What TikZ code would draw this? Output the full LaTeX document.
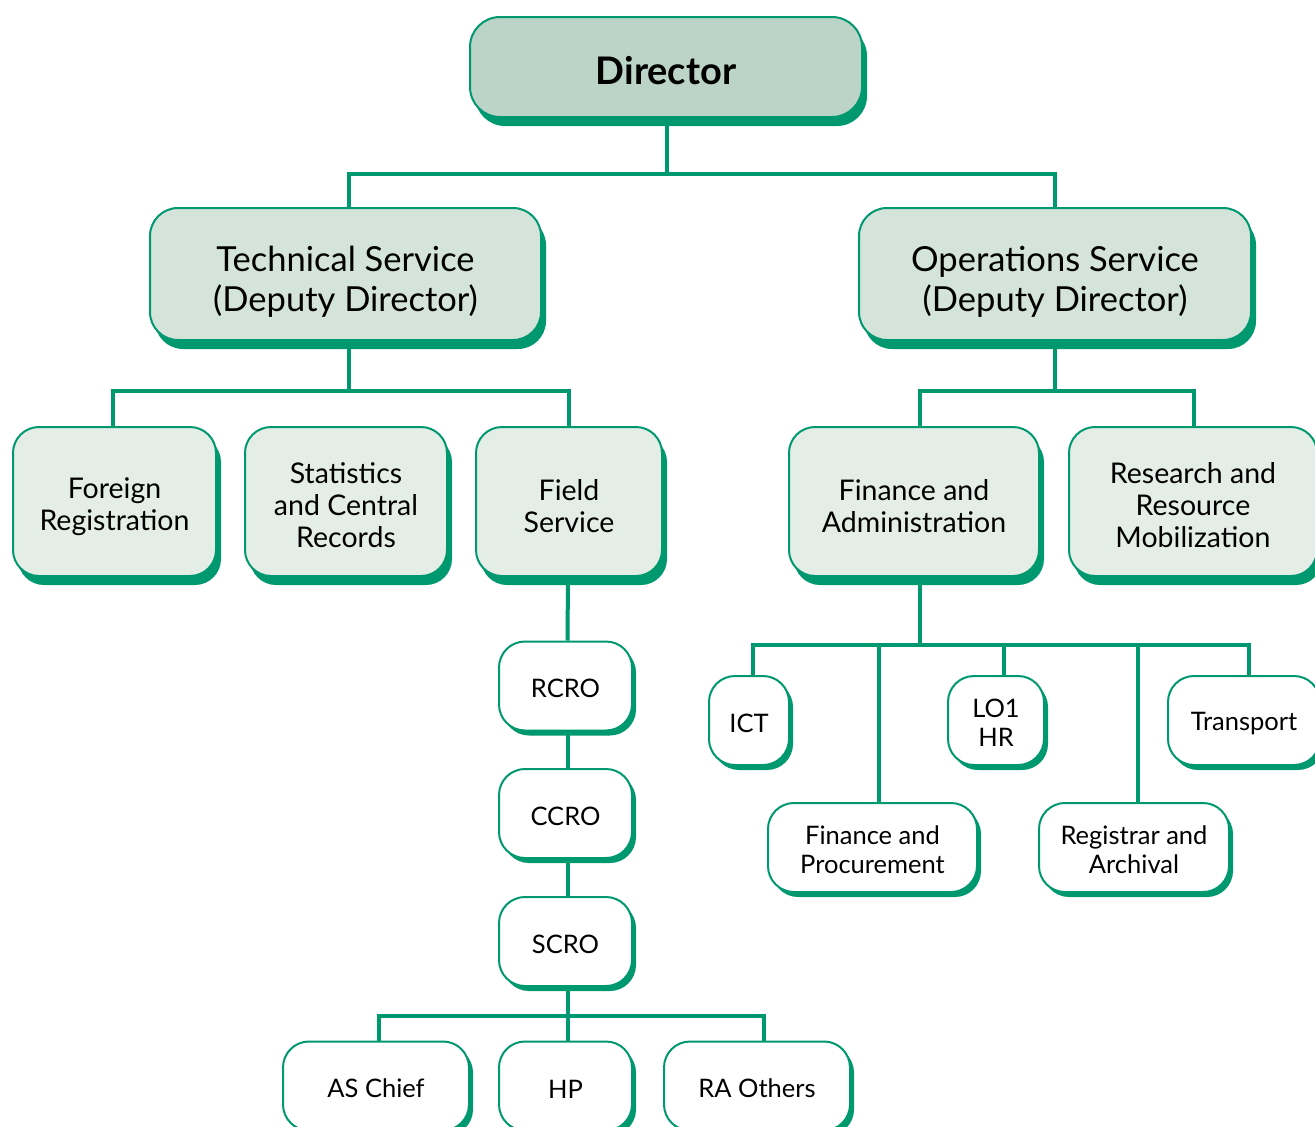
\documentclass[tikz,border=0pt]{standalone}
\usepackage{fontspec}
\setmainfont{Lato}
\usetikzlibrary{shadows}
\definecolor{tgreen}{RGB}{0,152,110}
\definecolor{fillA}{RGB}{188,212,200}
\definecolor{fillB}{RGB}{212,228,218}
\definecolor{fillC}{RGB}{228,238,231}
\tikzset{lift/.style={execute at begin node={\rule{0pt}{#1}}}}
\tikzstyle{box} = [rectangle, draw=tgreen, line width=2pt, align=center, inner sep=0pt, text=black]
\tikzstyle{topblock} = [box, fill=fillA, rounded corners=30pt, minimum width=392pt, minimum height=100pt, font=\fontsize{38}{44}\selectfont\bfseries, lift=34.5pt, drop shadow={shadow xshift=5pt, shadow yshift=-9pt, fill=tgreen, opacity=1}]
\tikzstyle{depblock} = [box, fill=fillB, rounded corners=28pt, minimum width=392pt, minimum height=132pt, font=\fontsize{34.5}{40}\selectfont, lift=81pt, drop shadow={shadow xshift=5pt, shadow yshift=-9pt, fill=tgreen, opacity=1}]
\tikzstyle{unitblock} = [box, fill=fillC, rounded corners=26pt, minimum height=149pt, font=\fontsize{28.5}{32}\selectfont, lift=62pt, drop shadow={shadow xshift=5pt, shadow yshift=-9pt, fill=tgreen, opacity=1}]
\tikzstyle{wblock} = [box, fill=white, rounded corners=26pt, minimum height=89pt, font=\fontsize{25.5}{29}\selectfont, lift=24pt, drop shadow={shadow xshift=4pt, shadow yshift=-5pt, fill=tgreen, opacity=1}]
\tikzstyle{line} = [draw, line width=4pt, color=tgreen]

\begin{document}
\begin{tikzpicture}[x=1pt, y=-1pt]
    \useasboundingbox (0,0) rectangle (1315,1127);
    % Place nodes
    \node [topblock] (director) at (666,67) {Director};
    \node [depblock, minimum width=391pt] (technical) at (345.5,274) {Technical Service\\(Deputy Director)};
    \node [depblock] (operations) at (1055,274) {Operations Service\\(Deputy Director)};
    \node [unitblock, minimum width=203pt, lift=64pt] (foreign) at (114.5,501.5) {Foreign\\Registration};
    \node [unitblock, minimum width=202pt, lift=93pt] (stats) at (346,501.5) {Statistics\\and Central\\Records};
    \node [unitblock, minimum width=186pt] (field) at (569,501.5) {Field\\Service};
    \node [unitblock, minimum width=250pt] (finadmin) at (914,501.5) {Finance and\\Administration};
    \node [unitblock, minimum width=248pt, lift=93pt] (research) at (1193,501.5) {Research and\\Resource\\Mobilization};
    \node [wblock, minimum width=133pt] (rcro) at (565.5,686) {RCRO};
    \node [wblock, minimum width=133pt] (ccro) at (565.5,813.5) {CCRO};
    \node [wblock, minimum width=133pt] (scro) at (565.5,941.5) {SCRO};
    \node [wblock, minimum width=186pt] (aschief) at (376,1086) {AS Chief};
    \node [wblock, minimum width=133pt] (hp) at (565.5,1086) {HP};
    \node [wblock, minimum width=186pt] (raothers) at (757,1086) {RA Others};
    \node [wblock, minimum width=80pt] (ict) at (749,720.5) {ICT};
    \node [wblock, minimum width=96pt, lift=52.5pt] (lohr) at (996,720.5) {LO1\\HR};
    \node [wblock, minimum width=152pt] (transport) at (1244,720.5) {Transport};
    \node [wblock, minimum width=209pt, lift=53pt] (finproc) at (872.5,847.5) {Finance and\\Procurement};
    \node [wblock, minimum width=190pt, lift=53pt] (registrar) at (1134,847.5) {Registrar and\\Archival};
    % Draw edges
    \path [line] ([xshift=1pt]director.south) -- ++(0,56) -| ([xshift=3.5pt]technical.north);
    \path [line] ([xshift=1pt]director.south) -- ++(0,56) -| (operations.north);
    \path [line] ([xshift=3.5pt]technical.south) -- ++(0,50) -| ([xshift=-1.5pt]foreign.north);
    \path [line] ([xshift=3.5pt]technical.south) -- ++(0,50) -| (field.north);
    \path [line] (operations.south) -- ++(0,50) -| ([xshift=6pt]finadmin.north);
    \path [line] (operations.south) -- ++(0,50) -| ([xshift=1pt]research.north);
    \path [line] ([xshift=-1pt]field.south) -- ([xshift=2pt]rcro.north);
    \path [line] ([xshift=2pt]rcro.south) -- ([xshift=2pt]ccro.north);
    \path [line] ([xshift=2pt]ccro.south) -- ([xshift=2pt]scro.north);
    \path [line] ([xshift=2pt]scro.south) -- ++(0,29) -| ([xshift=3pt]aschief.north);
    \path [line] ([xshift=2pt]scro.south) -- ([xshift=2pt]hp.north);
    \path [line] ([xshift=2pt]scro.south) -- ++(0,29) -| ([xshift=7pt]raothers.north);
    \path [line] ([xshift=6pt]finadmin.south) -- ++(0,68) -| ([xshift=4pt]ict.north);
    \path [line] ([xshift=6pt]finadmin.south) -- ++(0,68) -| ([xshift=6.5pt]finproc.north);
    \path [line] ([xshift=6pt]finadmin.south) -- ++(0,68) -| ([xshift=8pt]lohr.north);
    \path [line] ([xshift=6pt]finadmin.south) -- ++(0,68) -| ([xshift=4pt]registrar.north);
    \path [line] ([xshift=6pt]finadmin.south) -- ++(0,68) -| ([xshift=5pt]transport.north);
\end{tikzpicture}
\end{document}
